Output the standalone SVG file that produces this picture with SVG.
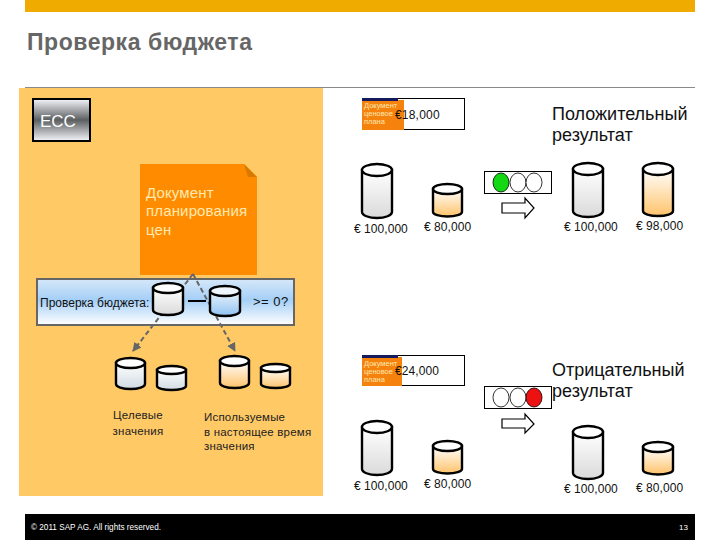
<svg xmlns="http://www.w3.org/2000/svg" width="720" height="540" viewBox="0 0 720 540">
<style>
text{font-family:"Liberation Sans",Arial,sans-serif}
.cyl path,.cyl ellipse{stroke:#000;stroke-width:2.4}
.top{fill:#fff}
.gray{fill:url(#gGray)}.org{fill:url(#gOrg)}.blue{fill:url(#gBlue)}.steel{fill:url(#gSteel)}
.val{font-size:12px;letter-spacing:.05px;fill:#111}
.res{font-size:18px;fill:#111}
.lab{font-size:11.5px;letter-spacing:.2px;fill:#222}
.tiny{font-size:7.5px;fill:#ffe9b0}
.lamp{stroke:#000;stroke-width:.8;fill:#fff}
.frame{fill:#fff;stroke:#000;stroke-width:1}
.dash{fill:none;stroke:#666;stroke-width:2;stroke-dasharray:5 3}
.blk{fill:#fff;stroke:#000;stroke-width:1.2}
</style>
<defs>
<linearGradient id="gGray" x1="0" y1="0" x2="0" y2="1"><stop offset="0" stop-color="#fff"/><stop offset="1" stop-color="#dadada"/></linearGradient>
<linearGradient id="gOrg" x1="0" y1="0" x2="0" y2="1"><stop offset="0" stop-color="#fff"/><stop offset="1" stop-color="#ffc36b"/></linearGradient>
<linearGradient id="gBlue" x1="0" y1="0" x2="0" y2="1"><stop offset="0" stop-color="#eef5fc"/><stop offset="1" stop-color="#8fc2f2"/></linearGradient>
<linearGradient id="gSteel" x1="0" y1="0" x2="0" y2="1"><stop offset="0" stop-color="#fff"/><stop offset="1" stop-color="#d0dbe2"/></linearGradient>
<linearGradient id="gEcc" x1="0" y1="0" x2="0" y2="1"><stop offset="0" stop-color="#f4f6fb"/><stop offset=".5" stop-color="#5c5f60"/><stop offset="1" stop-color="#f4f6fb"/></linearGradient>
<linearGradient id="gBand" x1="0" y1="0" x2="0" y2="1"><stop offset="0" stop-color="#d6e8f9"/><stop offset=".45" stop-color="#a5cff7"/><stop offset="1" stop-color="#fff"/></linearGradient>
<marker id="ah" viewBox="0 0 10 10" refX="9" refY="5" markerWidth="4.5" markerHeight="4.5" orient="auto"><path d="M0 0L10 5L0 10z" fill="#666"/></marker>
</defs>

<rect x="25" y="0" width="670" height="12" fill="#f0ab00"/>
<text x="27" y="50" font-size="23" font-weight="bold" fill="#666" letter-spacing=".55">Проверка бюджета</text>
<rect x="25" y="87" width="670" height="1" fill="#8a8a8a"/>
<rect x="19" y="88" width="304" height="408" fill="#ffc966"/>
<rect x="25" y="514" width="670" height="26" fill="#000"/>
<text x="31" y="530" font-size="8.2" fill="#fff">© 2011 SAP AG. All rights reserved.</text>
<text x="679" y="530" font-size="8" fill="#fff">13</text>

<g id="ecc">
<rect x="33" y="99" width="57" height="42" fill="url(#gEcc)" stroke="#000" stroke-width="2"/>
<text x="40" y="127" font-size="17" fill="#fff">ECC</text>
</g>

<g id="doc-plan">
<path d="M140 164H244L257 177V275H140z" fill="#ff8c00"/>
<path d="M244 164L257 177H248z" fill="#d97a00"/>
<text font-size="15" fill="#ffe9b0" letter-spacing=".15"><tspan x="146" y="198">Документ</tspan><tspan x="146" y="216">планирования</tspan><tspan x="146" y="235">цен</tspan></text>
</g>

<g id="check-band">
<rect x="37" y="279" width="257" height="46" fill="url(#gBand)" stroke="#666" stroke-width="2"/>
<text x="40" y="307" font-size="12" fill="#111">Проверка бюджета:</text>
<text x="253" y="306" font-size="13" fill="#111" letter-spacing=".5">&gt;= 0?</text>
</g>

<g id="connectors">
<path class="dash" d="M193 274L133 351" marker-end="url(#ah)"/>
<path class="dash" d="M193 274L235 351" marker-end="url(#ah)"/>
<path d="M188 301H206" stroke="#000" stroke-width="2" fill="none"/>
<path class="blk" d="M502 203H525V198L534 208L525 218V213H502z"/>
<path class="blk" d="M502 419H525V414L534 424L525 433V428H502z"/>
</g>

<g id="cyl-band-1" class="cyl"><path class="gray" d="M153 288V310A15 5 0 0 0 183 310V288z"/><ellipse class="top" cx="168" cy="288" rx="15" ry="5"/></g>
<g id="cyl-band-2" class="cyl"><path class="blue" d="M210 291V311A15 5 0 0 0 240 311V291z"/><ellipse class="top" cx="225" cy="291" rx="15" ry="5" style="fill:#eef5fc"/></g>

<g id="cyl-target-1" class="cyl"><path class="steel" d="M116 363V384A14.500 5 0 0 0 145 384V363z"/><ellipse class="top" cx="130.500" cy="363" rx="14.500" ry="5"/></g>
<g id="cyl-target-2" class="cyl"><path class="steel" d="M157 370V386A14.500 4 0 0 0 186 386V370z"/><ellipse class="top" cx="171.500" cy="370" rx="14.500" ry="4"/></g>
<g id="cyl-used-1" class="cyl"><path class="org" d="M220 361V383A14.500 5 0 0 0 249 383V361z"/><ellipse class="top" cx="234.500" cy="361" rx="14.500" ry="5"/></g>
<g id="cyl-used-2" class="cyl"><path class="org" d="M261 368V384A14.500 4 0 0 0 290 384V368z"/><ellipse class="top" cx="275.500" cy="368" rx="14.500" ry="4"/></g>
<g id="label-target"><text class="lab" text-anchor="middle"><tspan x="138" y="419">Целевые</tspan><tspan x="138" y="435">значения</tspan></text></g>
<g id="label-used"><text class="lab"><tspan x="204" y="421">Используемые</tspan><tspan x="204" y="436">в настоящее время</tspan><tspan x="204" y="450">значения</tspan></text></g>

<g id="doc-18000">
<rect class="frame" x="362.500" y="98.500" width="102" height="31"/>
<rect x="362" y="100" width="42" height="30" fill="#f5820d"/>
<rect x="362" y="98" width="36" height="3" fill="#141a5c"/>
<text class="tiny"><tspan x="364" y="108">Документ</tspan><tspan x="364" y="116">ценовое</tspan><tspan x="364" y="124">плана</tspan></text>
<text x="395" y="119" font-size="12" letter-spacing=".2" fill="#111">€18,000</text>
</g>
<g id="result-pos"><text class="res"><tspan x="552" y="120">Положительный</tspan><tspan x="552" y="141">результат</tspan></text></g>
<g id="cyl-p1" class="cyl"><path class="gray" d="M362 170V212A15 6 0 0 0 392 212V170z"/><ellipse class="top" cx="377" cy="170" rx="15" ry="6"/></g>
<g id="cyl-p2" class="cyl"><path class="org" d="M433 189V212A14.500 4.500 0 0 0 462 212V189z"/><ellipse class="top" cx="447.500" cy="189" rx="14.500" ry="5"/></g>
<g id="val-p1"><text class="val" x="354" y="233">€ 100,000</text></g>
<g id="val-p2"><text class="val" x="424" y="231">€ 80,000</text></g>
<g id="light-pos">
<rect class="frame" x="484.500" y="171.500" width="67" height="22"/>
<ellipse class="lamp" cx="501" cy="182.500" rx="8" ry="9.500" style="fill:#14d814"/>
<ellipse class="lamp" cx="518" cy="182.500" rx="8" ry="9.500"/>
<ellipse class="lamp" cx="534" cy="182.500" rx="8" ry="9.500"/>
</g>
<g id="cyl-p3" class="cyl"><path class="gray" d="M573 169V211A15 6 0 0 0 603 211V169z"/><ellipse class="top" cx="588" cy="169" rx="15" ry="6"/></g>
<g id="cyl-p4" class="cyl"><path class="org" d="M643 169V211A15 5 0 0 0 673 211V169z"/><ellipse class="top" cx="658" cy="169" rx="15" ry="6"/></g>
<g id="val-p3"><text class="val" x="564" y="231">€ 100,000</text></g>
<g id="val-p4"><text class="val" x="636" y="230">€ 98,000</text></g>

<g id="doc-24000">
<rect class="frame" x="362.500" y="355.500" width="102" height="30"/>
<rect x="362" y="357" width="40" height="29" fill="#f5820d"/>
<rect x="362" y="355" width="36" height="3" fill="#141a5c"/>
<text class="tiny"><tspan x="364" y="366">Документ</tspan><tspan x="364" y="374">ценовое</tspan><tspan x="364" y="382">плана</tspan></text>
<text x="395" y="375" font-size="12" letter-spacing=".1" fill="#111">€24,000</text>
</g>
<g id="result-neg"><text class="res"><tspan x="552" y="376">Отрицательный</tspan><tspan x="552" y="397">результат</tspan></text></g>
<g id="cyl-n1" class="cyl"><path class="gray" d="M362 427V469A15 6 0 0 0 392 469V427z"/><ellipse class="top" cx="377" cy="427" rx="15" ry="6"/></g>
<g id="cyl-n2" class="cyl"><path class="org" d="M433 446V469A14.500 4.500 0 0 0 462 469V446z"/><ellipse class="top" cx="447.500" cy="446" rx="14.500" ry="5"/></g>
<g id="val-n1"><text class="val" x="354" y="490">€ 100,000</text></g>
<g id="val-n2"><text class="val" x="424" y="488">€ 80,000</text></g>
<g id="light-neg">
<rect class="frame" x="484.500" y="386.500" width="67" height="22"/>
<ellipse class="lamp" cx="501" cy="397.500" rx="8" ry="9.500"/>
<ellipse class="lamp" cx="518" cy="397.500" rx="8" ry="9.500"/>
<ellipse class="lamp" cx="534" cy="397.500" rx="8" ry="9.500" style="fill:#ee1111"/>
</g>
<g id="cyl-n3" class="cyl"><path class="gray" d="M573 432V473A15 6 0 0 0 603 473V432z"/><ellipse class="top" cx="588" cy="432" rx="15" ry="6"/></g>
<g id="cyl-n4" class="cyl"><path class="org" d="M643 447V470A15 4.500 0 0 0 673 470V447z"/><ellipse class="top" cx="658" cy="447" rx="15" ry="5"/></g>
<g id="val-n3"><text class="val" x="564" y="493">€ 100,000</text></g>
<g id="val-n4"><text class="val" x="636" y="492">€ 80,000</text></g>
</svg>
